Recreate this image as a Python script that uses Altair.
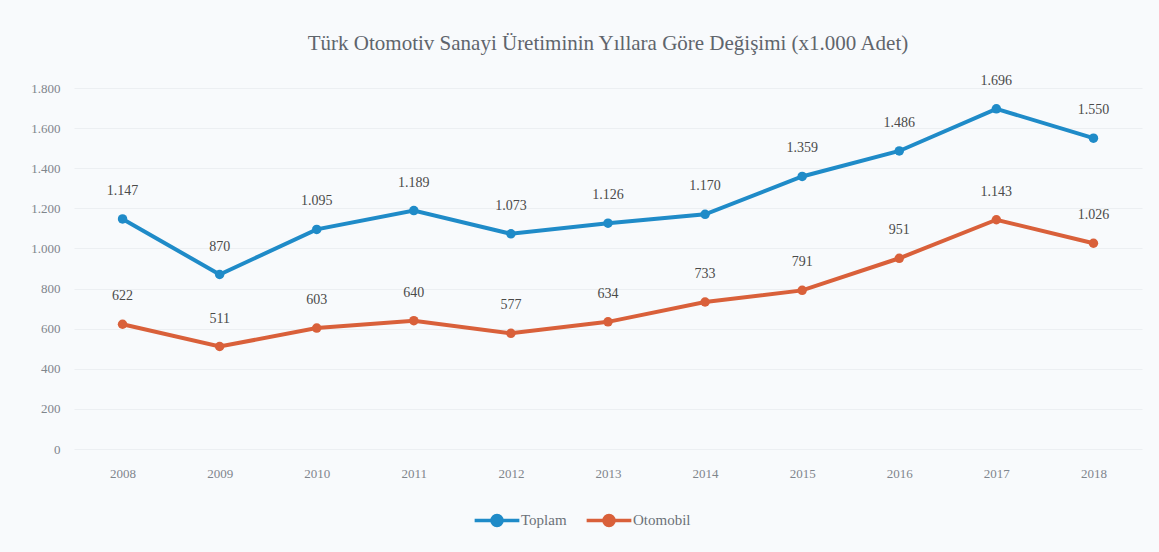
import altair as alt
import pandas as pd

years = ["2008", "2009", "2010", "2011", "2012", "2013", "2014", "2015", "2016", "2017", "2018"]
toplam = [1147, 870, 1095, 1189, 1073, 1126, 1170, 1359, 1486, 1696, 1550]
otomobil = [622, 511, 603, 640, 577, 634, 733, 791, 951, 1143, 1026]
series_names = ["Toplam", "Otomobil"]
series_colors = ["#1f8bc8", "#d9603a"]

rows = []
for name, vals in zip(series_names, [toplam, otomobil]):
    for y, v in zip(years, vals):
        rows.append({"Yıl": y, "Seri": name, "Değer": v})
df = pd.DataFrame(rows)

serif = "Liberation Serif"

x = alt.X("Yıl:O", sort=years, scale=alt.Scale(paddingInner=1, paddingOuter=0.5),
          axis=alt.Axis(title=None, labelAngle=0, labelPadding=18, ticks=False, domain=False,
                        labelFont=serif, labelFontSize=13, labelColor="#7f858c", grid=False))
y = alt.Y("Değer:Q", scale=alt.Scale(domain=[0, 1800]),
          axis=alt.Axis(title=None, values=list(range(0, 1801, 200)), ticks=False, domain=False,
                        labelFont=serif, labelFontSize=13, labelColor="#7f858c", labelPadding=14,
                        labelExpr="replace(datum.label, ',', '.')",
                        grid=True, gridColor="#eceff2", gridWidth=1))
color = alt.Color("Seri:N", sort=series_names,
                  scale=alt.Scale(domain=series_names, range=series_colors),
                  legend=alt.Legend(title=None, orient="none", legendX=410, legendY=419,
                                    direction="horizontal", labelFont=serif, labelFontSize=15,
                                    labelColor="#6b7178",
                                    symbolType="M-2,0L2,0M-0.45,0A0.45,0.45 0 1,0 0.45,0A0.45,0.45 0 1,0 -0.45,0Z",
                                    symbolSize=500, symbolStrokeWidth=3.5, columnPadding=12,
                                    labelOffset=11))

base = alt.Chart(df)
line = base.mark_line(strokeWidth=4).encode(x=x, y=y, color=color)
pts = base.mark_point(filled=True, size=90, opacity=1).encode(
    x=x, y=y,
    color=alt.Color("Seri:N", sort=series_names, scale=alt.Scale(domain=series_names, range=series_colors), legend=None))
labels = base.mark_text(dy=-28, font=serif, fontSize=14, color="#4a4a4a").transform_calculate(
    lbl="replace(format(datum['Değer'], ','), ',', '.')"
).encode(x=x, y=y, text="lbl:N")

chart = alt.layer(line, pts, labels).properties(
    width=1068, height=361,
    title=alt.TitleParams("Türk Otomotiv Sanayi Üretiminin Yıllara Göre Değişimi (x1.000 Adet)",
                          font=serif, fontSize=21, fontWeight="normal", color="#5f656c",
                          anchor="middle", offset=20),
    autosize=alt.AutoSizeParams(type="none"),
    padding={"left": 74, "right": 17, "top": 88, "bottom": 103},
    background="#f8fafc",
).configure_view(stroke=None)

chart.save("out.html", embed_options={"renderer": "svg", "actions": False})
